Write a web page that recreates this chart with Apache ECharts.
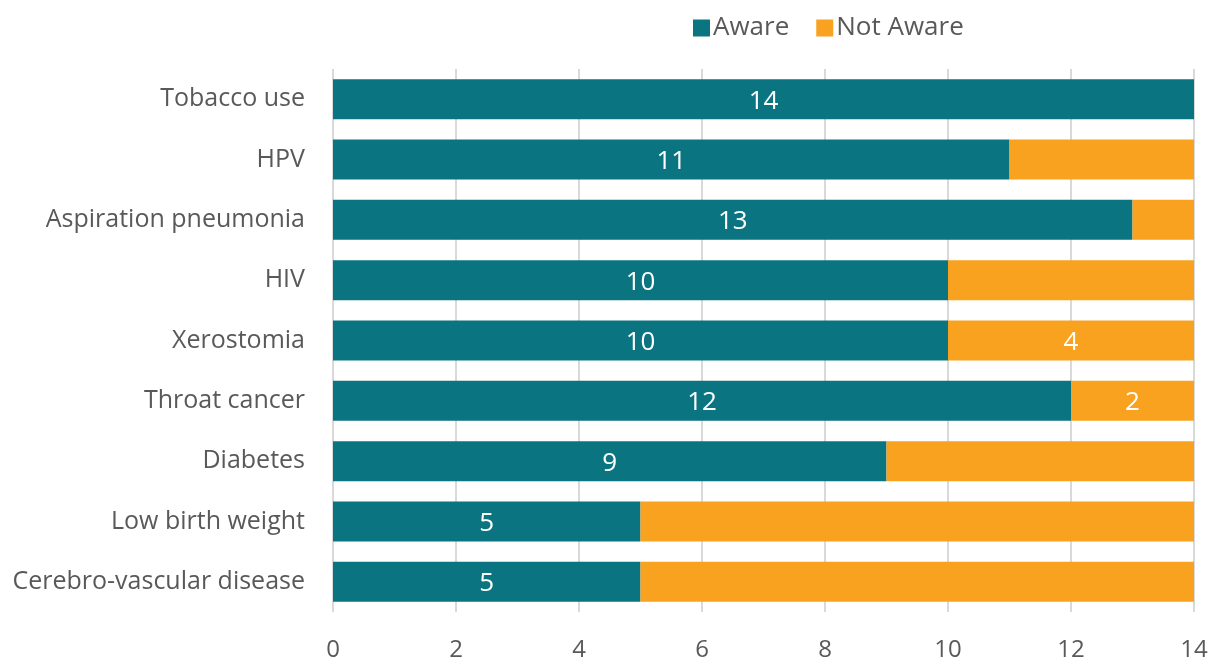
<!DOCTYPE html>
<html>
<head>
<meta charset="utf-8">
<script src="https://cdn.jsdelivr.net/npm/echarts@6/dist/echarts.min.js"></script>
<style>
  html, body { margin: 0; padding: 0; background: #fff; }
  #chart { width: 1215px; height: 664px; }
</style>
</head>
<body>
<div id="chart"></div>
<script>
// categories listed bottom-to-top (ECharts category y axis starts at the bottom)
const categories = ['Cerebro-vascular disease', 'Low birth weight', 'Diabetes', 'Throat cancer',
  'Xerostomia', 'HIV', 'Aspiration pneumonia', 'HPV', 'Tobacco use'];
const aware = [5, 5, 9, 12, 10, 10, 13, 11, 14];
const notAware = [9, 9, 5, 2, 4, 4, 1, 3, 0];
// only these Not Aware bars carry a value label in the original
const notAwareLabeled = ['Throat cancer', 'Xerostomia'];
const xTicks = [0, 2, 4, 6, 8, 10, 12, 14];

const FONT = '"Open Sans", "Noto Sans", sans-serif';

let myChart = echarts.init(document.getElementById('chart'));

myChart.setOption({
  animation: false,
  color: ['#0A7580', '#F9A21F'],
  textStyle: { fontFamily: FONT },
  legend: {
    data: ['Aware', 'Not Aware'],
    left: 688,
    top: 10,
    itemWidth: 17,
    itemHeight: 17,
    itemGap: 27,
    icon: 'rect',
    textStyle: { fontSize: 26, color: '#595959', fontFamily: FONT, padding: [0, 0, 0, -2] }
  },
  grid: {
    left: 333,
    right: 21,
    top: 69,
    bottom: 52
  },
  xAxis: {
    type: 'value',
    min: xTicks[0],
    max: xTicks[xTicks.length - 1],
    interval: 2,
    axisLine: { show: false },
    axisTick: { show: false },
    splitLine: { show: true, lineStyle: { color: '#D9D9D9', width: 2 } },
    axisLabel: { fontSize: 24, color: '#595959', margin: 26, fontFamily: FONT }
  },
  yAxis: {
    type: 'category',
    data: categories,
    axisLine: { show: false },
    axisTick: { show: false },
    axisLabel: { fontSize: 25, color: '#595959', margin: 28, fontFamily: FONT, padding: [5, 0, 0, 0] }
  },
  series: [
    {
      name: 'Aware',
      type: 'bar',
      stack: 'total',
      barWidth: 40,
      data: aware,
      label: { show: true, position: 'inside', color: '#fff', fontSize: 26, fontFamily: FONT, offset: [0, 2] }
    },
    {
      name: 'Not Aware',
      type: 'bar',
      stack: 'total',
      barWidth: 40,
      data: notAware.map((v, i) => ({
        value: v,
        label: { show: notAwareLabeled.includes(categories[i]) }
      })),
      label: { position: 'inside', color: '#fff', fontSize: 26, fontFamily: FONT, offset: [0, 2] }
    }
  ]
});
</script>
</body>
</html>
